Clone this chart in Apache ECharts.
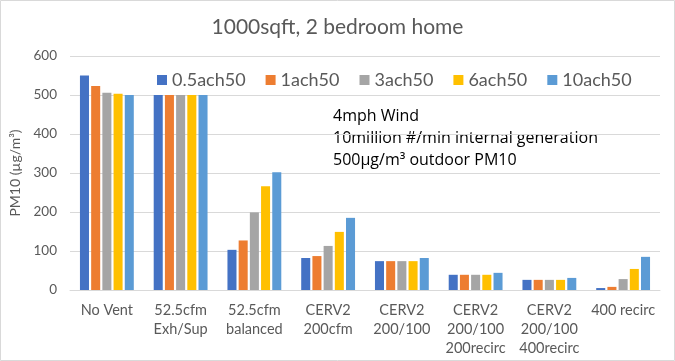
<!DOCTYPE html>
<html><head><meta charset="utf-8">
<script src="https://cdn.jsdelivr.net/npm/echarts@6/dist/echarts.min.js"></script>
<style>html,body{margin:0;padding:0;background:#fff}#c{width:675px;height:361px}</style>
</head><body><div id="c"></div>
<script>
const categories = ['No Vent','52.5cfm\nExh/Sup','52.5cfm\nbalanced','CERV2\n200cfm','CERV2\n200/100','CERV2\n200/100\n200recirc','CERV2\n200/100\n400recirc','400 recirc'];
const seriesNames = ['0.5ach50','1ach50','3ach50','6ach50','10ach50'];
const s05 = [550, 500, 103, 82, 74, 39, 26, 5];
const s1  = [523, 500, 127, 87, 74, 39, 26, 8];
const s3  = [506, 500, 199, 113, 74, 39, 26, 28];
const s6  = [503, 500, 266, 149, 74, 39, 26, 54];
const s10 = [500, 500, 302, 185, 82, 44, 31, 85];
const yTicks = [0, 100, 200, 300, 400, 500, 600];
const notes = ['4mph Wind', '10million #/min internal generation', '500µg/m³ outdoor PM10'];
const colors = ['#4472C4','#ED7D31','#A5A5A5','#FFC000','#5B9BD5'];
const values = [s05, s1, s3, s6, s10];
const FONT = 'Lato, "Open Sans", sans-serif';
const NFONT = '"Open Sans", sans-serif';

const chart = echarts.init(document.getElementById('c'));
chart.setOption({
  animation: false,
  textStyle: {fontFamily: FONT},
  title: {text: '1000sqft, 2 bedroom home', left: 'center', top: 12,
    textStyle: {fontFamily: FONT, fontSize: 21, fontWeight: 'normal', color: '#595959'}},
  legend: {data: seriesNames, left: 152, top: 66, itemWidth: 10, itemHeight: 10, itemGap: 20,
    icon: 'rect', textStyle: {fontFamily: FONT, fontSize: 18, color: '#595959'}},
  grid: {left: 70, right: 15, top: 56, bottom: 71},
  graphic: [
    {type: 'rect', shape: {x: 0.5, y: 0.5, width: 674, height: 360}, style: {fill: 'none', stroke: '#d9d9d9', lineWidth: 1}, silent: true},
    {type: 'text', left: 333, top: 108, style: {text: notes[0], font: '16px ' + NFONT, fill: '#000'}},
    {type: 'text', left: 333, top: 130, style: {text: notes[1], font: '16px ' + NFONT, fill: '#000'}},
    {type: 'text', left: 333, top: 152, style: {text: notes[2], font: '16px ' + NFONT, fill: '#000'}}
  ],
  xAxis: {type: 'category', data: categories,
    axisLine: {lineStyle: {color: '#d9d9d9'}}, axisTick: {show: false},
    axisLabel: {color: '#595959', fontSize: 14.5, lineHeight: 19, margin: 11, interval: 0, fontFamily: FONT}},
  yAxis: {type: 'value', min: yTicks[0], max: yTicks[yTicks.length - 1], interval: 100,
    name: 'PM10 (µg/m³)', nameLocation: 'middle', nameGap: 39,
    nameTextStyle: {color: '#595959', fontSize: 14, fontFamily: FONT},
    axisLabel: {color: '#595959', fontSize: 13.5, margin: 13, fontFamily: FONT},
    splitLine: {lineStyle: {color: '#d9d9d9'}}, axisLine: {show: false}, axisTick: {show: false}},
  series: seriesNames.map((n, i) => ({
    name: n, type: 'bar', data: values[i], itemStyle: {color: colors[i]},
    barGap: '24%', barCategoryGap: '27%'
  }))
});
</script></body></html>
